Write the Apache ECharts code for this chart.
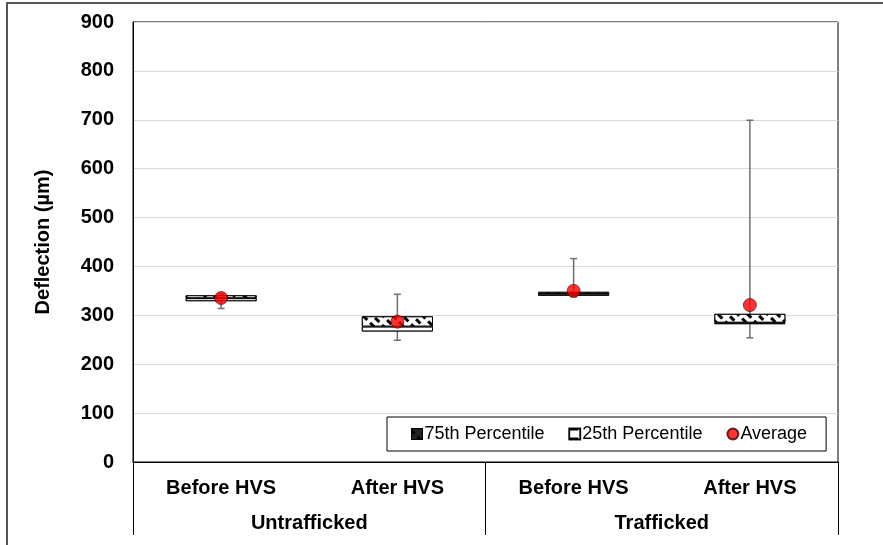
<!DOCTYPE html>
<html>
<head>
<meta charset="utf-8">
<script src="https://cdn.jsdelivr.net/npm/echarts@6/dist/echarts.min.js"></script>
<style>
html,body{margin:0;padding:0;background:#fff;}
#chart{width:883px;height:545px;}
</style>
</head>
<body>
<div id="chart"></div>
<script>
var categories = ['Before HVS', 'After HVS', 'Before HVS', 'After HVS'];
var groups = ['Untrafficked', 'Trafficked'];
var q1Values = [329, 267, 340, 282];
var medianValues = [335, 277, 344, 285];
var q3Values = [341, 298, 348, 303];
var minValues = [314, 249, 338, 254];
var maxValues = [344, 343, 416, 699];
var averageValues = [335.5, 287, 350, 321];
var yTicks = [0, 100, 200, 300, 400, 500, 600, 700, 800, 900];

var lower = q1Values.map(function (q, i) { return medianValues[i] - q; });
var upper = q3Values.map(function (q, i) { return q - medianValues[i]; });
var whisk = categories.map(function (c, i) { return [i, minValues[i], maxValues[i]]; });
var avg = categories.map(function (c, i) { return [i, averageValues[i]]; });

var font = 'Liberation Sans, Arial, sans-serif';
var chart = echarts.init(document.getElementById('chart'));
chart.setOption({
  animation: false,
  backgroundColor: '#fff',
  graphic: [{
    type: 'rect', silent: true, z: -10,
    shape: { x: 7, y: 3, width: 1000, height: 1000 },
    style: { fill: 'none', stroke: '#555', lineWidth: 2 }
  }],
  grid: { left: 133, top: 22, right: 45, bottom: 83, show: true, borderColor: '#000', borderWidth: 1, backgroundColor: 'transparent' },
  legend: {
    left: 387, top: 417,
    padding: [8, 19, 8, 24],
    borderColor: '#000', borderWidth: 1, backgroundColor: '#fff',
    itemWidth: 11, itemHeight: 11, itemGap: 24,
    textStyle: { fontFamily: font, fontSize: 18, color: '#000', padding: [0, 0, 0, -3] },
    data: [
      { name: '75th Percentile', icon: 'rect', itemStyle: { color: '#222', borderColor: '#000', borderWidth: 1 } },
      { name: '25th Percentile', icon: 'rect', itemStyle: { color: '#fff', borderColor: '#000', borderWidth: 1.5 } },
      { name: 'Average', icon: 'circle' }
    ]
  },
  xAxis: [{
    type: 'category', data: categories, position: 'bottom',
    axisLine: { show: true, lineStyle: { color: '#000', width: 1 } },
    axisTick: { show: false },
    axisLabel: { fontFamily: font, fontSize: 20, fontWeight: 'bold', color: '#000', margin: 16, interval: 0 },
    splitLine: { show: false }
  }, {
    type: 'category', data: groups, position: 'bottom', gridIndex: 0,
    axisLine: { show: false },
    axisTick: { show: true, length: 73, inside: false, lineStyle: { color: '#000', width: 1 } },
    axisLabel: { fontFamily: font, fontSize: 20, fontWeight: 'bold', color: '#000', margin: 51, interval: 0 },
    splitLine: { show: false }
  }],
  yAxis: {
    type: 'value', min: 0, max: 900, interval: 100,
    name: 'Deflection (µm)', nameLocation: 'middle', nameGap: 80,
    nameTextStyle: { fontFamily: font, fontSize: 20, fontWeight: 'bold', color: '#000' },
    axisLine: { show: true, lineStyle: { color: '#000' } },
    axisTick: { show: false },
    axisLabel: { fontFamily: font, fontSize: 20, fontWeight: 'bold', color: '#000', margin: 19,
      formatter: function (v) { return yTicks.indexOf(v) >= 0 ? String(v) : ''; } },
    splitLine: { show: true, lineStyle: { color: '#d9d9d9', width: 1 } }
  },
  series: [{
    type: 'custom', name: 'whisker', z: 1,
    data: whisk,
    encode: { x: 0, y: [1, 2] },
    renderItem: function (params, api) {
      var x = api.value(0);
      var lo = api.coord([x, api.value(1)]);
      var hi = api.coord([x, api.value(2)]);
      var st = { stroke: '#6f6f6f', lineWidth: 1.5 };
      return { type: 'group', children: [
        { type: 'line', shape: { x1: lo[0], y1: lo[1], x2: hi[0], y2: hi[1] }, style: st },
        { type: 'line', shape: { x1: lo[0] - 3.5, y1: lo[1], x2: lo[0] + 3.5, y2: lo[1] }, style: st },
        { type: 'line', shape: { x1: hi[0] - 3.5, y1: hi[1], x2: hi[0] + 3.5, y2: hi[1] }, style: st }
      ] };
    }
  }, {
    type: 'bar', name: 'base', stack: 'box', barWidth: 71, z: 2,
    data: q1Values,
    itemStyle: { color: 'rgba(0,0,0,0)', borderWidth: 0 },
    emphasis: { disabled: true }
  }, {
    type: 'bar', name: '25th Percentile', stack: 'box', barWidth: 71, z: 3,
    data: lower,
    itemStyle: {
      color: '#fff', borderColor: '#000', borderWidth: 0.8,
      decal: { symbol: 'rect', color: '#000', dashArrayX: [[9, 9]], dashArrayY: [2, 7], rotation: 0, symbolSize: 1 }
    }
  }, {
    type: 'bar', name: '75th Percentile', stack: 'box', barWidth: 71, z: 3,
    data: upper,
    itemStyle: {
      color: '#fff', borderColor: '#000', borderWidth: 0.8,
      decal: { symbol: 'rect', color: '#000', dashArrayX: [[6, 4]], dashArrayY: [3, 4], rotation: Math.PI / 4, symbolSize: 1 }
    }
  }, {
    type: 'scatter', name: 'Average', z: 5,
    data: avg,
    symbol: 'circle', symbolSize: 13,
    itemStyle: { color: '#ff0000', borderColor: '#400000', borderWidth: 0.8 }
  }]
});
</script>
</body>
</html>
